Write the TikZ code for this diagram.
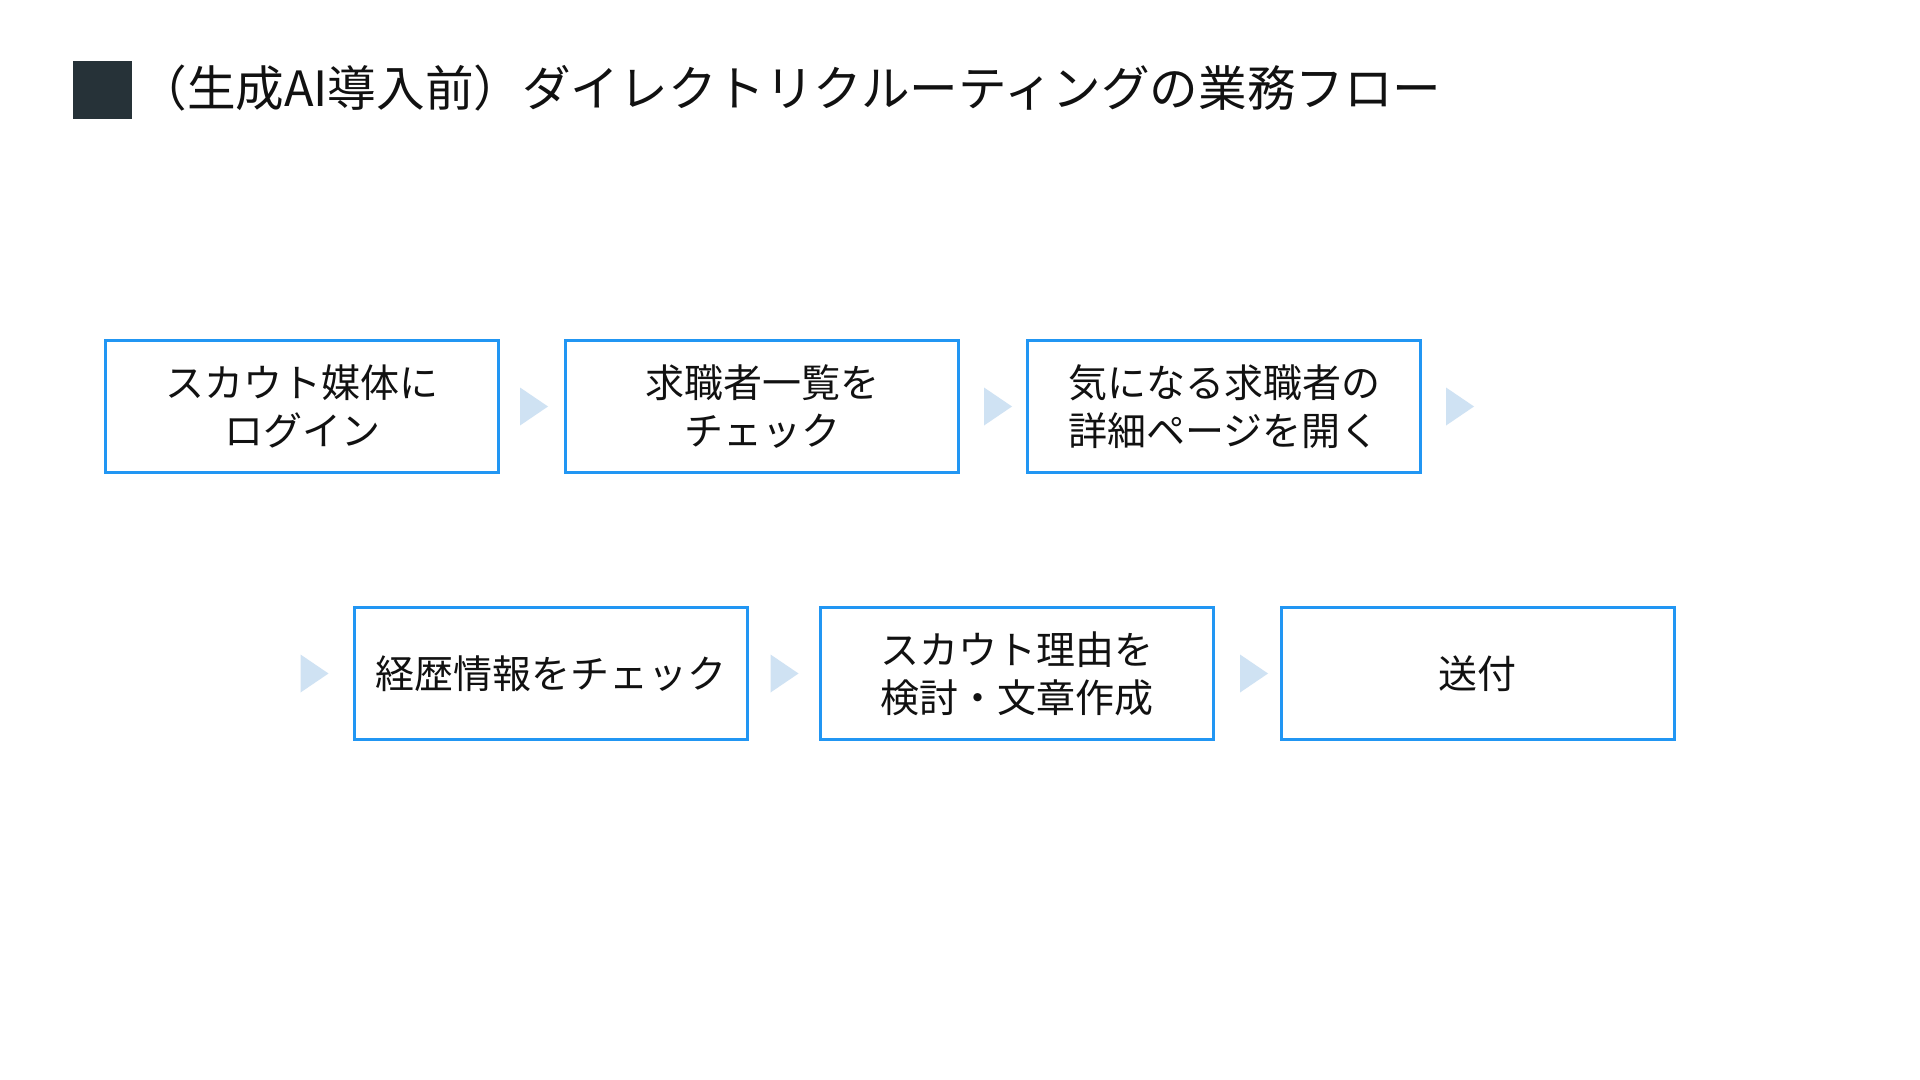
\documentclass[tikz,border=0pt]{standalone}
\usepackage{fontspec}
\setmainfont{Noto Sans CJK JP}
\usepackage{tikz}
\usetikzlibrary{calc}
\definecolor{ink}{HTML}{111111}
\definecolor{slate}{HTML}{263238}
\definecolor{boxline}{HTML}{2196F3}
\definecolor{pale}{HTML}{CFE2F3}
\tikzset{
  box/.style={draw=boxline, line width=1.5pt, fill=white, minimum width=196.5pt, minimum height=66pt, inner sep=0pt, align=center, text=ink, font=\fontsize{19.5}{24}\selectfont},
  tri/.style={fill=pale},
  ttl/.style={text=ink, font=\fontsize{24.3}{28}\selectfont, anchor=west, inner sep=0pt},
}

\begin{document}
\begin{tikzpicture}[x=0.5pt, y=-0.5pt]
  \fill[white] (0,0) rectangle (1920,1080);
  \useasboundingbox (0,0) rectangle (1920,1080);
  % title
  \fill[slate] (73,61) rectangle (132,119);
  \node[ttl] (title) at (138,88) {（生成AI導入前）ダイレクトリクルーティングの業務フロー};
  % first row
  \node[box] (login) at (302,406.5) {スカウト媒体に\\ログイン};
  \node[box] (list) at (762,406.5) {求職者一覧を\\チェック};
  \node[box] (detail) at (1224,406.5) {気になる求職者の\\詳細ページを開く};
  % second row
  \node[box] (career) at (550.5,673.5) {経歴情報をチェック};
  \node[box] (reason) at (1017,673.5) {スカウト理由を\\検討・文章作成};
  \node[box] (send) at (1477.5,673.5) {送付};
  % triangles
  \fill[tri] ($(login.east)+(20,-19)$) -- ++(28,19) -- ++(-28,19) -- cycle;
  \fill[tri] ($(list.east)+(24,-19)$) -- ++(28,19) -- ++(-28,19) -- cycle;
  \fill[tri] ($(detail.east)+(24,-19)$) -- ++(28,19) -- ++(-28,19) -- cycle;
  \fill[tri] ($(career.west)+(-52,-19)$) -- ++(28,19) -- ++(-28,19) -- cycle;
  \fill[tri] ($(career.east)+(22,-19)$) -- ++(28,19) -- ++(-28,19) -- cycle;
  \fill[tri] ($(reason.east)+(25,-19)$) -- ++(28,19) -- ++(-28,19) -- cycle;
\end{tikzpicture}
\end{document}
